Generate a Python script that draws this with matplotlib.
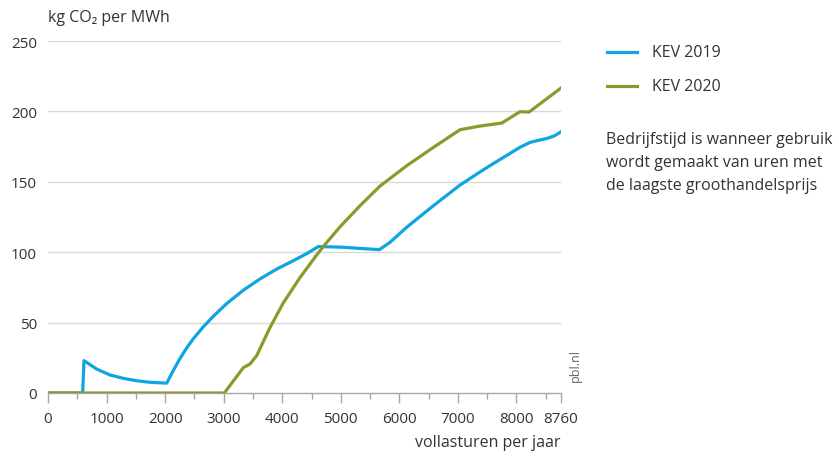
import matplotlib
matplotlib.use("Agg")
import matplotlib.pyplot as plt
import matplotlib.ticker as mtick

# KEV 2019
kev2019_x = [0, 592, 615, 831, 1059, 1286, 1514, 1742, 2027, 2140, 2254, 2368, 2481, 2652,
             2823, 3051, 3336, 3620, 3905, 4190, 4418, 4616, 5000, 5328, 5658, 5840, 6125,
             6580, 7036, 7377, 7548, 8060, 8231, 8538, 8650, 8760]
kev2019_y = [0, 0, 23, 17, 12.8, 10.4, 8.7, 7.6, 7, 16, 24.5, 32, 38.5, 47,
             54.5, 63.5, 73, 81, 88, 94, 99, 104, 103.6, 102.7, 101.8, 107, 117.7,
             133, 147.7, 157, 161.5, 174.5, 178, 181, 182.7, 185.5]

# KEV 2020
kev2020_x = [0, 3011, 3336, 3449, 3563, 3791, 4018, 4303, 4588, 4700, 4986, 5328, 5670,
             6125, 6580, 7036, 7377, 7748, 8060, 8213, 8760]
kev2020_y = [0, 0, 18, 20.6, 26.5, 46.5, 64, 82, 98, 104, 118, 133, 147,
             161.4, 174.4, 187, 189.6, 191.7, 199.8, 199.5, 216.6]

x_ticks = [0, 1000, 2000, 3000, 4000, 5000, 6000, 7000, 8000, 8760]
y_ticks = [0, 50, 100, 150, 200, 250]

BLUE = "#0ea5e0"
OLIVE = "#8d9a2b"
TEXT = "#333333"
GRID = "#d9d9d9"
AXIS = "#a6a6a6"

plt.rcParams["font.family"] = ["Open Sans", "DejaVu Sans"]

fig = plt.figure(figsize=(8.39, 4.64), dpi=100)
ax = fig.add_axes([48 / 839, 70 / 464, 513 / 839, 352 / 464])

ax.plot(kev2019_x, kev2019_y, color=BLUE, linewidth=2.3, solid_joinstyle="round", zorder=3)
ax.plot(kev2020_x, kev2020_y, color=OLIVE, linewidth=2.3, solid_joinstyle="round", zorder=3)

ax.set_xlim(0, 8760)
ax.set_ylim(0, 250)
ax.set_xticks(x_ticks)
ax.xaxis.set_minor_locator(mtick.FixedLocator([v for v in range(500, 8760, 1000)]))
ax.set_yticks(y_ticks)
ax.set_yticklabels([str(v) for v in y_ticks])

for s in ["top", "right", "left"]:
    ax.spines[s].set_visible(False)
ax.spines["bottom"].set_color(AXIS)
ax.spines["bottom"].set_linewidth(1.0)

ax.tick_params(axis="x", which="major", length=7, width=1, color=AXIS, labelsize=11,
               labelcolor=TEXT, pad=6)
ax.tick_params(axis="x", which="minor", length=4, width=1, color=AXIS)
ax.tick_params(axis="y", length=0, labelsize=11, labelcolor=TEXT, pad=8)

for v in y_ticks[1:]:
    ax.axhline(v, color=GRID, linewidth=1.0, zorder=1)

ax.set_xlabel("vollasturen per jaar", fontsize=11.5, color=TEXT, loc="right", labelpad=6)
fig.text(48 / 839, 1 - 18 / 464, "kg CO\u2082 per MWh", fontsize=11.5, color=TEXT,
         ha="left", va="center")

fig.text(575 / 839, 1 - 366 / 464, "pbl.nl", rotation=90, fontsize=9, color="#666666",
         ha="center", va="center")

# legend
for y, lab, c in [(53, "KEV 2019", BLUE), (87, "KEV 2020", OLIVE)]:
    fig.add_artist(plt.Line2D([607 / 839, 637 / 839], [1 - y / 464, 1 - y / 464],
                              color=c, linewidth=2.3, transform=fig.transFigure))
    fig.text(652 / 839, 1 - y / 464, lab, fontsize=11.5, color=TEXT, ha="left", va="center")

note = ["Bedrijfstijd is wanneer gebruik", "wordt gemaakt van uren met",
        "de laagste groothandelsprijs"]
for i, line in enumerate(note):
    fig.text(606 / 839, 1 - (140 + 23 * i) / 464, line, fontsize=11.5, color=TEXT,
             ha="left", va="center")

fig.savefig("out.png", dpi=100)
